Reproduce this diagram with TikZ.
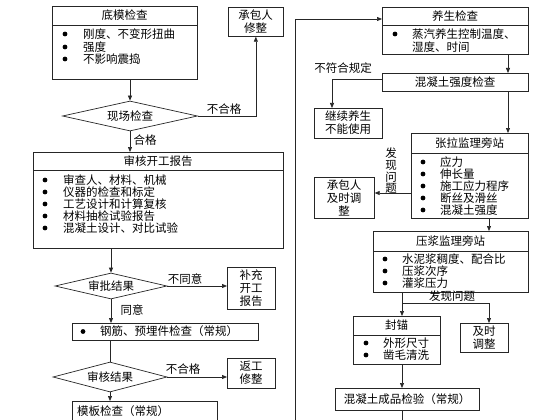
\documentclass[tikz,border=0pt]{standalone}
\usepackage{fontspec}
\setmainfont{Noto Sans CJK SC}
\usetikzlibrary{arrows.meta,shapes.geometric}
\begin{document}
\begin{tikzpicture}[x=1pt,y=-1pt,
  every node/.style={font=\fontsize{11.5}{13}\selectfont, text=black},
  bx/.style={draw=black!85, line width=0.7pt, inner sep=0pt, anchor=north west},
  dm/.style={draw=black!85, line width=0.7pt, diamond, inner sep=0pt},
  txt/.style={inner sep=0pt, anchor=west},
  ctr/.style={inner sep=0pt, align=center},
  arr/.style={-{Triangle[length=5pt,width=4pt]}, line width=0.7pt, draw=black!85},
  ln/.style={line width=0.7pt, draw=black!85},
  dv/.style={line width=0.7pt, draw=black!85}]
\useasboundingbox (0,0) rectangle (560,420);
\fill[white] (0,0) rectangle (560,420);
\newcommand\mybox[5]{\node[bx, minimum width={(#4-#2)*1pt}, minimum height={(#5-#3)*1pt}] (#1) at (#2,#3) {};}
\newcommand\bul[2]{\fill[black] (#1,#2) circle (2.4pt);}

% ---------- left column ----------
\mybox{A}{52}{6}{197}{79}
\draw[dv] (52,25) -- (197,25);
\node[ctr] (At) at (124.5,15.5) {底模检查};
\bul{65}{34}\bul{65}{47}\bul{65}{59}
\node[txt] (A1) at (83,34) {刚度、不变形扭曲};
\node[txt] (A2) at (83,47) {强度};
\node[txt] (A3) at (83,59) {不影响震捣};

\mybox{B}{228}{7}{283}{36}
\node[ctr] (Bt) at (255.5,21.5) {承包人\\修整};

\node[dm, shape aspect=4.5, minimum width=135pt, minimum height=30pt] (D1) at (130,116) {现场检查};

\mybox{C}{33}{152}{283}{248}
\draw[dv] (33,170) -- (283,170);
\node[ctr] (Ct) at (158,161) {审核开工报告};
\bul{45}{180}\bul{45}{192}\bul{45}{204}\bul{45}{216}\bul{45}{228}
\node[txt] (C1) at (63,180) {审查人、材料、机械};
\node[txt] (C2) at (63,192) {仪器的检查和标定};
\node[txt] (C3) at (63,204) {工艺设计和计算复核};
\node[txt] (C4) at (63,216) {材料抽检试验报告};
\node[txt] (C5) at (63,228) {混凝土设计、对比试验};

\node[dm, shape aspect=4.3, minimum width=112pt, minimum height=26pt] (D2) at (111,286) {审批结果};

\mybox{E}{227}{267}{275}{309}
\node[ctr] (Et) at (251,288) {补充\\开工\\报告};

\mybox{F}{72}{323}{258}{340}
\bul{83}{331.5}
\node[txt] (Ft) at (100,331.5) {钢筋、预埋件检查（常规）};

\node[dm, shape aspect=3.8, minimum width=114pt, minimum height=30pt] (D3) at (110,377) {审核结果};

\mybox{G}{227}{358}{275}{388}
\node[ctr] (Gt) at (251,373) {返工\\修整};

\mybox{H}{72}{401}{217}{421}
\node[txt] (Ht) at (77,411) {模板检查（常规）};

% left connectors
\draw[arr] (A.south -| D1.north) -- (D1.north);
\draw[arr] (D1.east) -| (B.south);
\node[ctr] (l1) at (224,109) {不合格};
\draw[arr] (D1.south) -- (D1.south |- C.north);
\node[ctr] (l2) at (145,140) {合格};
\draw[arr] (C.south -| D2.north) -- (D2.north);
\draw[arr] (D2.east) -- (D2.east -| E.west);
\node[ctr] (l3) at (185,279) {不同意};
\draw[arr] (D2.south) -- (D2.south |- F.north);
\node[ctr] (l4) at (132,310) {同意};
\draw[ln] (F.south -| D3.north) -- (D3.north);
\draw[arr] (D3.east) -- (D3.east -| G.west);
\node[ctr] (l5) at (183,369) {不合格};
\draw[arr] (D3.south) -- (D3.south |- H.north);
\coordinate (hb) at (110,421);
\draw[ln] (H.south -| hb) -- (hb);

% ---------- right column ----------
\mybox{I}{382}{7}{528}{54}
\draw[dv] (382,25) -- (528,25);
\node[ctr] (It) at (455,16) {养生检查};
\bul{395}{34}
\node[txt] (I1) at (412,34) {蒸汽养生控制温度、};
\node[txt] (I2) at (412,47) {湿度、时间};

\mybox{J}{382}{73}{528}{91}
\node[ctr] (Jt) at (455,82) {混凝土强度检查};

\mybox{K}{314}{108}{382}{138}
\node[ctr] (Kt) at (348,123) {继续养生\\不能使用};

\mybox{L}{411}{133}{528}{218}
\draw[dv] (411,153) -- (528,153);
\node[ctr] (Lt) at (469.5,143) {张拉监理旁站};
\bul{423}{162}\bul{423}{174}\bul{423}{186}\bul{423}{198}\bul{423}{210}
\node[txt] (L1) at (440,162) {应力};
\node[txt] (L2) at (440,174) {伸长量};
\node[txt] (L3) at (440,186) {施工应力程序};
\node[txt] (L4) at (440,198) {断丝及滑丝};
\node[txt] (L5) at (440,210) {混凝土强度};

\mybox{M}{314}{177}{374}{218}
\node[ctr] (Mt) at (344,197.5) {承包人\\及时调\\整};

\mybox{N}{373}{231}{528}{292}
\draw[dv] (373,251) -- (528,251);
\node[ctr] (Nt) at (450.5,241) {压浆监理旁站};
\bul{385}{259}\bul{385}{271}\bul{385}{283}
\node[txt] (N1) at (402,259) {水泥浆稠度、配合比};
\node[txt] (N2) at (402,271) {压浆次序};
\node[txt] (N3) at (402,283) {灌浆压力};

\mybox{O}{353}{316}{440}{364}
\draw[dv] (353,335) -- (440,335);
\node[ctr] (Ot) at (396.5,325) {封锚};
\bul{366}{343}\bul{366}{355}
\node[txt] (O1) at (383,343) {外形尺寸};
\node[txt] (O2) at (383,355) {凿毛清洗};

\mybox{P}{460}{323}{508}{352}
\node[ctr] (Pt) at (484,337.5) {及时\\调整};

\mybox{Q}{335}{388}{479}{410}
\node[ctr] (Qt) at (407,399) {混凝土成品检验（常规）};

% right connectors
\coordinate (x508) at (508,0);
\coordinate (x489) at (489,0);
\coordinate (x402) at (402,0);
\coordinate (x332) at (332,0);
\coordinate (y79) at (0,79);
\coordinate (y193) at (0,193);
\coordinate (y19) at (0,19);
\coordinate (y303) at (0,303);
\draw[arr] (I.south -| x508) -- (J.north -| x508);
\draw[arr] (J.west |- y79) -| (K.north -| x332);
\node[ctr] (l6) at (343,68) {不符合规定};
\draw[arr] (J.south -| x508) -- (L.north -| x508);
\draw[arr] (L.west |- y193) -- (M.east |- y193);
\node[ctr, font=\fontsize{11.5}{11.7}\selectfont] (l7) at (391,171) {发\\现\\问\\题};
\draw[arr] (L.south -| x489) -- (N.north -| x489);
\draw[arr] (N.south -| x402) -- (O.north -| x402);
\draw[arr] (x402 |- y303) -| (P.north -| x489);
\node[ctr] (l8) at (452,296) {发现问题};
\draw[arr] (O.south -| x402) -- (Q.north -| x402);
\coordinate (qb) at (402,421);
\draw[ln] (Q.south -| x402) -- (qb);

% long return line
\coordinate (lb) at (295,421);
\draw[arr] (lb) |- (I.west |- y19);
\end{tikzpicture}
\end{document}
